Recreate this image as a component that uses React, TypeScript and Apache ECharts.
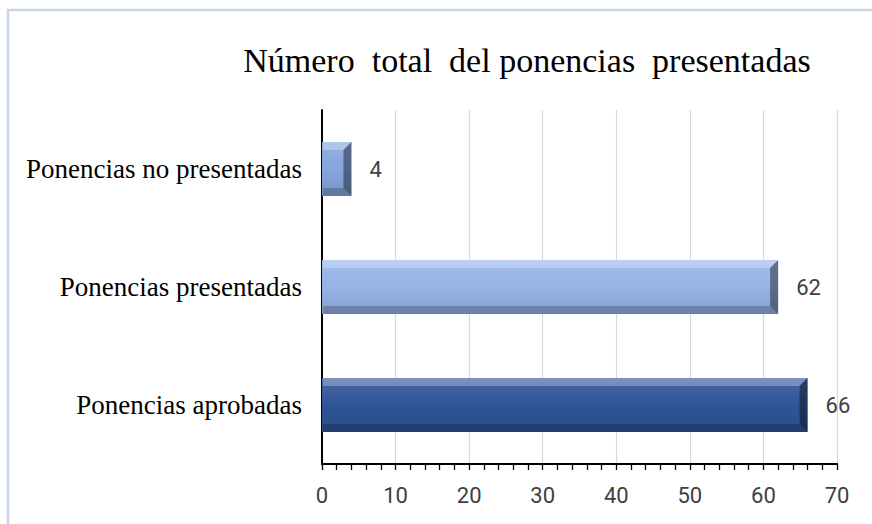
import React, { useEffect, useRef } from "react";
import * as echarts from "echarts";

const categories = ["Ponencias aprobadas", "Ponencias presentadas", "Ponencias no presentadas"];
const values = [66, 62, 4];
const barColors = ["#2f5597", "#95b3e7", "#86a5dd"];
const xTicks = { min: 0, max: 70, interval: 10 };
const titleText = "Número  total  del ponencias  presentadas";

function shade(hex: string, amt: number) {
  const n = parseInt(hex.slice(1), 16);
  let r = (n >> 16) & 255, g = (n >> 8) & 255, b = n & 255;
  const f = (c: number) => Math.max(0, Math.min(255, Math.round(amt >= 0 ? c + (255 - c) * amt : c * (1 + amt))));
  return `rgb(${f(r)},${f(g)},${f(b)})`;
}

export default function App() {
  const ref = useRef<HTMLDivElement>(null);
  useEffect(() => {
    document.body.style.margin = "0";
    const chart = echarts.init(ref.current!, null, { renderer: "svg" });
    const barData = values.map((v, i) => ({
      value: v,
      itemStyle: {
        color: new echarts.graphic.LinearGradient(0, 0, 0, 1, [
          { offset: 0, color: shade(barColors[i], 0.12) },
          { offset: 0.5, color: barColors[i] },
          { offset: 1, color: shade(barColors[i], -0.1) },
        ]),
      },
    }));
    chart.setOption({
      animation: false,
      backgroundColor: "#ffffff",
      title: {
        text: titleText,
        left: 522,
        textAlign: "center",
        top: 38,
        textStyle: { fontFamily: "Liberation Serif", fontSize: 34, fontWeight: "normal", color: "#000" },
      },
      graphic: [
        {
          type: "rect",
          shape: { x: 8, y: 10, width: 900, height: 600 },
          style: { fill: "none", stroke: "#c6d5e8", lineWidth: 2.5 },
          silent: true,
        },
      ],
      grid: { left: 322, right: 35, top: 110, bottom: 60, containLabel: false },
      xAxis: {
        type: "value",
        min: xTicks.min,
        max: xTicks.max,
        interval: xTicks.interval,
        axisLine: { show: true, lineStyle: { color: "#000", width: 2 } },
        axisTick: { show: true, length: 6, lineStyle: { color: "#000", width: 1.3 } },
        minorTick: { show: true, splitNumber: 5, length: 6, lineStyle: { color: "#000", width: 1.3 } },
        splitLine: { show: true, lineStyle: { color: "#d9d9d9", width: 1.2 } },
        axisLabel: { fontFamily: "Roboto", fontSize: 22, color: "#404040", margin: 20 },
      },
      yAxis: {
        type: "category",
        data: categories,
        axisLine: { show: true, lineStyle: { color: "#000", width: 2 } },
        axisTick: { show: false },
        axisLabel: { fontFamily: "Liberation Serif", fontSize: 27, color: "#000", margin: 20 },
      },
      series: [
        {
          type: "bar",
          data: barData,
          barWidth: 54,
          label: {
            show: true,
            position: "right",
            distance: 18,
            fontFamily: "Roboto",
            fontSize: 22,
            color: "#404040",
          },
        },
        {
          type: "custom",
          data: values.map((v, i) => [v, i]),
          encode: { x: 0, y: 1 },
          silent: true,
          z: 3,
          renderItem: (params: any, api: any) => {
            const v = api.value(0);
            const c = api.value(1);
            const p0 = api.coord([0, c]);
            const p1 = api.coord([v, c]);
            const h = 54;
            const x0 = p0[0] + 1, x1 = p1[0];
            const y0 = p0[1] - h / 2, y1 = p0[1] + h / 2;
            const b = 8;
            return {
              type: "group",
              children: [
                {
                  type: "polygon",
                  shape: { points: [[x0, y0], [x1, y0], [x1 - b, y0 + b], [x0, y0 + b]] },
                  style: { fill: "rgba(255,255,255,0.28)" },
                },
                {
                  type: "polygon",
                  shape: { points: [[x0, y1], [x1, y1], [x1 - b, y1 - b], [x0, y1 - b]] },
                  style: { fill: "rgba(0,0,0,0.2)" },
                },
                {
                  type: "polygon",
                  shape: { points: [[x1, y0], [x1, y1], [x1 - b, y1 - b], [x1 - b, y0 + b]] },
                  style: { fill: "rgba(0,0,0,0.4)" },
                },
              ],
            };
          },
        },
      ],
    });
    return () => chart.dispose();
  }, []);
  return <div ref={ref} style={{ position: "fixed", left: 0, top: 0, width: 872, height: 524 }} />;
}
